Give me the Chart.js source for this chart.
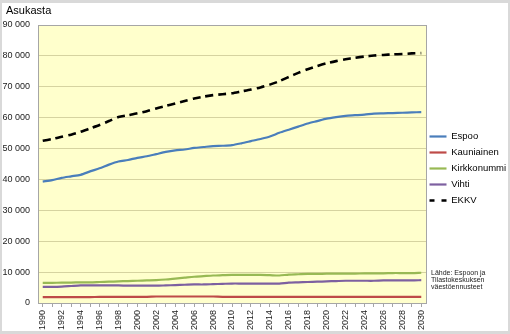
<!DOCTYPE html>
<html>
<head>
<meta charset="utf-8">
<script src="https://cdn.jsdelivr.net/npm/chart.js@4/dist/chart.umd.min.js"></script>
<style>
  html, body { margin: 0; padding: 0; background: #fff; }
  #wrap { position: relative; width: 510px; height: 334px; }
</style>
</head>
<body>
<div id="wrap"><canvas id="chart"></canvas></div>
<script>
// Years 1990-2030
const years = [];
for (let y = 1990; y <= 2030; y++) years.push(String(y));

const espoo = [39300, 39800, 40500, 41000, 41500, 42600, 43600, 44800, 45800, 46300,
  47000, 47500, 48200, 48900, 49400, 49700, 50200, 50500, 50800, 50900,
  51100, 51700, 52400, 53100, 53900, 55100, 56100, 57100, 58100, 58900,
  59700, 60200, 60600, 60800, 61000, 61300, 61400, 61500, 61600, 61700, 61800];
const kauniainen = [1900, 1900, 1900, 1900, 1900, 1900, 2000, 2000, 2000, 2000,
  2000, 2000, 2100, 2100, 2100, 2100, 2100, 2100, 2100, 2000,
  2000, 2000, 2000, 2000, 2000, 2000, 2000, 2000, 2000, 2000,
  2000, 2000, 2000, 2000, 2000, 2000, 2000, 2000, 2000, 2000, 2000];
const kirkkonummi = [6500, 6500, 6600, 6600, 6700, 6700, 6800, 6900, 7000, 7100,
  7200, 7300, 7400, 7600, 7900, 8200, 8500, 8700, 8900, 9000,
  9100, 9100, 9100, 9100, 9000, 8900, 9200, 9300, 9400, 9400,
  9500, 9500, 9500, 9500, 9600, 9600, 9600, 9700, 9700, 9700, 9800];
const vihti = [5200, 5200, 5300, 5500, 5700, 5700, 5700, 5700, 5700, 5600,
  5600, 5600, 5600, 5700, 5800, 5900, 6000, 6000, 6100, 6200,
  6300, 6300, 6300, 6300, 6300, 6300, 6600, 6700, 6800, 6900,
  7000, 7100, 7200, 7200, 7200, 7200, 7300, 7300, 7300, 7300, 7400];
const ekkv = [52500, 53100, 53800, 54500, 55400, 56500, 57600, 58900, 60200, 60800,
  61400, 62100, 63000, 63800, 64600, 65400, 66200, 66800, 67300, 67600,
  67900, 68500, 69100, 69800, 70700, 71800, 73200, 74500, 75700, 76700,
  77600, 78300, 78900, 79400, 79800, 80100, 80300, 80500, 80600, 80800, 80900];

const yTicks = [0, 10000, 20000, 30000, 40000, 50000, 60000, 70000, 80000, 90000];

const fmt = v => String(v).replace(/\B(?=(\d{3})+(?!\d))/g, ' ');

const frame = {
  id: 'frame',
  afterLayout(chart) {
    // nudge the legend up and left a bit, like the original
    if (chart.legend) {
      chart.legend.top -= 11;
      chart.legend.bottom -= 11;
      chart.legend.left -= 3;
      chart.legend.right -= 3;
    }
  },
  beforeDraw(chart) {
    const { ctx, chartArea: a } = chart;
    ctx.save();
    ctx.fillStyle = '#d9d9d9';
    ctx.fillRect(0, 0, chart.width, chart.height);
    ctx.fillStyle = '#ffffff';
    ctx.fillRect(2, 3, chart.width - 4, chart.height - 6);
    ctx.fillStyle = '#ffffcc';
    ctx.fillRect(a.left, a.top, a.right - a.left, a.bottom - a.top);
    ctx.restore();
  },
  afterDraw(chart) {
    const { ctx, chartArea: a } = chart;
    ctx.save();
    ctx.strokeStyle = '#a6a6a6';
    ctx.lineWidth = 1;
    ctx.strokeRect(a.left + 0.5, a.top + 0.5, a.right - a.left, a.bottom - a.top);
    ctx.fillStyle = '#000';
    ctx.font = '11px "Liberation Sans", Arial, sans-serif';
    ctx.textBaseline = 'middle';
    ctx.fillText('Asukasta', 6, 11);
    ctx.font = '7px "Liberation Sans", Arial, sans-serif';
    ctx.fillStyle = '#222';
    ctx.fillText('Lähde: Espoon ja', 431, 273);
    ctx.fillText('Tilastokeskuksen', 431, 280);
    ctx.fillText('väestöennusteet', 431, 287);
    ctx.restore();
  }
};

new Chart(document.getElementById('chart'), {
  type: 'line',
  data: {
    labels: years,
    datasets: [
      { label: 'Espoo', data: espoo, borderColor: '#4a7ebb', backgroundColor: '#4a7ebb', borderWidth: 2.2 },
      { label: 'Kauniainen', data: kauniainen, borderColor: '#be4b48', backgroundColor: '#be4b48', borderWidth: 2.2 },
      { label: 'Kirkkonummi', data: kirkkonummi, borderColor: '#98b954', backgroundColor: '#98b954', borderWidth: 2.2 },
      { label: 'Vihti', data: vihti, borderColor: '#7d60a0', backgroundColor: '#7d60a0', borderWidth: 2.2 },
      { label: 'EKKV', data: ekkv, borderColor: '#000000', backgroundColor: '#000000', borderWidth: 2.6, borderDash: [8, 5] }
    ]
  },
  options: {
    responsive: true,
    maintainAspectRatio: false,
    animation: false,
    devicePixelRatio: 1,
    elements: { point: { radius: 0 }, line: { tension: 0.25 } },
    layout: { padding: { top: 25, right: 0, left: 0, bottom: 0 } },
    plugins: {
      legend: {
        position: 'right',
        align: 'center',
        maxWidth: 84,
        labels: {
          usePointStyle: true,
          pointStyle: 'line',
          pointStyleWidth: 17,
          padding: 6.5,
          color: '#000',
          font: { size: 9.5, family: '"Liberation Sans", Arial, sans-serif' },
          generateLabels: chart => {
            const items = Chart.defaults.plugins.legend.labels.generateLabels(chart);
            items.forEach(it => {
              const ds = chart.data.datasets[it.datasetIndex];
              it.lineDash = ds.borderDash ? [5, 7] : [];
              it.lineWidth = ds.borderWidth;
              it.strokeStyle = ds.borderColor;
            });
            return items;
          }
        }
      },
      tooltip: { enabled: false }
    },
    scales: {
      x: {
        offset: true,
        grid: { display: true, drawOnChartArea: false, tickLength: 4, color: '#a6a6a6' },
        border: { color: '#a6a6a6' },
        ticks: {
          autoSkip: false,
          minRotation: 90,
          maxRotation: 90,
          padding: 3,
          color: '#222',
          font: { size: 9, family: '"Liberation Sans", Arial, sans-serif' },
          callback: function(value, index) {
            const y = Number(this.getLabelForValue(value));
            return y % 2 === 0 ? String(y) : '';
          }
        },
        afterFit: s => { s.height = 31; }
      },
      y: {
        min: 0,
        max: 90000,
        afterBuildTicks: s => { s.ticks = yTicks.map(v => ({ value: v })); },
        grid: { color: '#d6d3a0', drawTicks: false },
        border: { color: '#a6a6a6' },
        ticks: {
          padding: 8,
          color: '#222',
          font: { size: 9, family: '"Liberation Sans", Arial, sans-serif' },
          callback: v => fmt(v)
        },
        afterFit: s => { s.width = 38; }
      }
    }
  },
  plugins: [frame]
});
</script>
</body>
</html>
